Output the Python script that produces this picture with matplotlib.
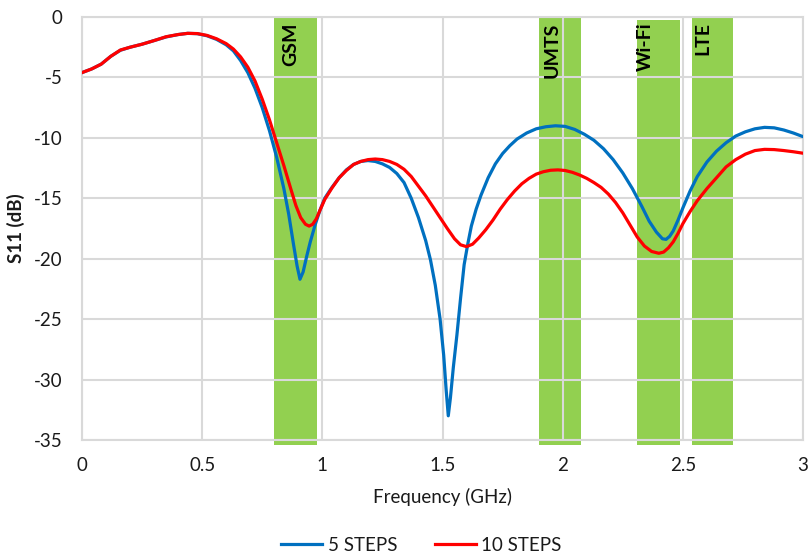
import matplotlib
matplotlib.use("Agg")
import matplotlib.pyplot as plt

# Frequency sweep (GHz) and return loss S11 (dB) for the two antenna variants
freq_5 = [0.00, 0.04, 0.08, 0.12, 0.16, 0.20, 0.25, 0.30, 0.35, 0.40, 0.44, 0.48,
          0.52, 0.56, 0.60, 0.63, 0.66, 0.69, 0.72, 0.75, 0.78, 0.81, 0.84, 0.86,
          0.88, 0.895, 0.907, 0.92, 0.935, 0.95, 0.97, 0.99, 1.01, 1.04, 1.07, 1.10,
          1.13, 1.16, 1.19, 1.22, 1.25, 1.28, 1.31, 1.34, 1.37, 1.40, 1.43, 1.45,
          1.47, 1.49, 1.505, 1.515, 1.524, 1.533, 1.545, 1.56, 1.575, 1.59, 1.605, 1.62,
          1.64, 1.66, 1.69, 1.72, 1.75, 1.78, 1.81, 1.85, 1.89, 1.93, 1.97, 2.01,
          2.05, 2.09, 2.13, 2.17, 2.21, 2.25, 2.29, 2.33, 2.36, 2.39, 2.415, 2.43,
          2.445, 2.46, 2.48, 2.50, 2.53, 2.56, 2.60, 2.64, 2.68, 2.72, 2.76, 2.80,
          2.84, 2.88, 2.92, 2.96, 3.00]
s11_5 = [-4.6, -4.3, -3.9, -3.25, -2.75, -2.5, -2.25, -1.95, -1.65, -1.45, -1.35, -1.38,
         -1.55, -1.85, -2.3, -2.8, -3.6, -4.6, -5.9, -7.5, -9.4, -11.6, -14.2, -16.3,
         -18.8, -20.6, -21.7, -21.1, -19.8, -18.6, -17.2, -16.0, -15.0, -14.1, -13.3, -12.65,
         -12.2, -11.95, -11.88, -11.95, -12.15, -12.45, -12.95, -13.7, -15.0, -16.6, -18.5, -20.1,
         -22.2, -25.0, -28.0, -30.8, -33.0, -31.5, -29.0, -26.3, -23.3, -20.5, -18.8, -17.3,
         -15.9, -14.75, -13.3, -12.15, -11.3, -10.65, -10.1, -9.6, -9.25, -9.08, -9.0, -9.05,
         -9.3, -9.7, -10.2, -10.9, -11.8, -12.9, -14.2, -15.7, -16.9, -17.8, -18.35, -18.4,
         -18.15, -17.7, -16.8, -15.8, -14.4, -13.2, -12.0, -11.1, -10.4, -9.85, -9.5, -9.25,
         -9.13, -9.17, -9.35, -9.6, -9.9]

freq_10 = [0.00, 0.04, 0.08, 0.12, 0.16, 0.20, 0.25, 0.30, 0.35, 0.40, 0.44, 0.48,
           0.52, 0.56, 0.60, 0.63, 0.66, 0.69, 0.72, 0.75, 0.78, 0.81, 0.84, 0.87,
           0.89, 0.91, 0.93, 0.945, 0.96, 0.975, 0.99, 1.01, 1.04, 1.07, 1.10, 1.13,
           1.16, 1.19, 1.22, 1.25, 1.28, 1.31, 1.34, 1.37, 1.40, 1.43, 1.46, 1.49,
           1.52, 1.55, 1.575, 1.60, 1.625, 1.65, 1.68, 1.71, 1.74, 1.77, 1.80, 1.83,
           1.86, 1.89, 1.92, 1.95, 1.98, 2.01, 2.04, 2.07, 2.10, 2.13, 2.16, 2.19,
           2.22, 2.25, 2.28, 2.31, 2.34, 2.37, 2.40, 2.42, 2.44, 2.46, 2.48, 2.50,
           2.53, 2.56, 2.60, 2.64, 2.68, 2.72, 2.76, 2.80, 2.84, 2.88, 2.92, 2.96,
           3.00]
s11_10 = [-4.6, -4.3, -3.9, -3.25, -2.73, -2.5, -2.25, -1.95, -1.63, -1.45, -1.35, -1.37,
          -1.52, -1.8, -2.2, -2.65, -3.3, -4.15, -5.3, -6.8, -8.5, -10.4, -12.3, -14.3,
          -15.6, -16.6, -17.15, -17.3, -17.15, -16.7, -16.0, -15.1, -14.15, -13.3, -12.7, -12.2,
          -11.95, -11.8, -11.75, -11.8, -11.95, -12.2, -12.6, -13.2, -14.0, -14.8, -15.7, -16.6,
          -17.5, -18.35, -18.85, -19.0, -18.8, -18.3, -17.6, -16.8, -15.9, -15.1, -14.4, -13.8,
          -13.35, -13.0, -12.8, -12.68, -12.65, -12.7, -12.85, -13.07, -13.35, -13.7, -14.1, -14.65,
          -15.35, -16.2, -17.2, -18.2, -18.95, -19.4, -19.55, -19.45, -19.1, -18.6, -17.9, -17.1,
          -16.1, -15.2, -14.2, -13.3, -12.4, -11.8, -11.35, -11.05, -10.95, -10.97, -11.05, -11.15,
          -11.27]

# Service bands highlighted behind the curves
band_names = ["GSM", "UMTS", "Wi-Fi", "LTE"]
band_start = [0.80, 1.90, 2.31, 2.54]
band_end = [0.978, 2.077, 2.49, 2.71]
band_top = [0.0, 0.0, -0.25, 0.0]
band_label_x = [0.868, 1.955, 2.343, 2.583]

x_ticks = [0, 0.5, 1, 1.5, 2, 2.5, 3]
x_tick_labels = ["0", "0.5", "1", "1.5", "2", "2.5", "3"]
y_ticks = [0, -5, -10, -15, -20, -25, -30, -35]
y_tick_labels = ["0", "-5", "-10", "-15", "-20", "-25", "-30", "-35"]

plt.rcParams["font.family"] = ["Lato", "DejaVu Sans"]

fig = plt.figure(figsize=(8.1, 5.58), dpi=100)
ax = fig.add_axes([0.1012, 0.2115, 0.8902, 0.758])

bottom = -35.4
for name, s, e, top, lx in zip(band_names, band_start, band_end, band_top, band_label_x):
    ax.bar((s + e) / 2, top - bottom, width=e - s, bottom=bottom,
           color="#92D050", zorder=0.2, clip_on=False, linewidth=0)
    ax.text(lx, -0.45, name, rotation=90, ha="center", va="top",
            fontsize=14, fontweight="bold", color="black", zorder=3)

ax.plot(freq_5, s11_5, color="#0070C0", lw=2.3, label="5 STEPS", zorder=2,
        solid_joinstyle="round")
ax.plot(freq_10, s11_10, color="#FF0000", lw=2.3, label="10 STEPS", zorder=2.1,
        solid_joinstyle="round")

ax.set_xlim(0, 3)
ax.set_ylim(-35, 0)
ax.set_xticks(x_ticks)
ax.set_xticklabels(x_tick_labels)
ax.set_yticks(y_ticks)
ax.set_yticklabels(y_tick_labels)
ax.tick_params(axis="both", length=0, labelsize=13.5, colors="#1a1a1a")
ax.tick_params(axis="y", pad=14)
ax.tick_params(axis="x", pad=12)

ax.set_axisbelow(True)
ax.grid(True, color="#D9D9D9", lw=1.5)
for sp in ax.spines.values():
    sp.set_color("#D9D9D9")
    sp.set_linewidth(1.5)
    sp.set_zorder(0.5)

ax.set_xlabel("Frequency (GHz)", fontsize=13.5, color="#1a1a1a", labelpad=10)
ax.set_ylabel("S11 (dB)", fontsize=13.5, fontweight="bold", color="#1a1a1a",
              labelpad=6)

fig.legend(loc="center", bbox_to_anchor=(0.52, 0.023), ncol=2, frameon=False,
           fontsize=13.5, handlelength=2.2, handletextpad=0.3, columnspacing=2.0,
           labelcolor="#1a1a1a")

fig.savefig("out.png", dpi=100)
